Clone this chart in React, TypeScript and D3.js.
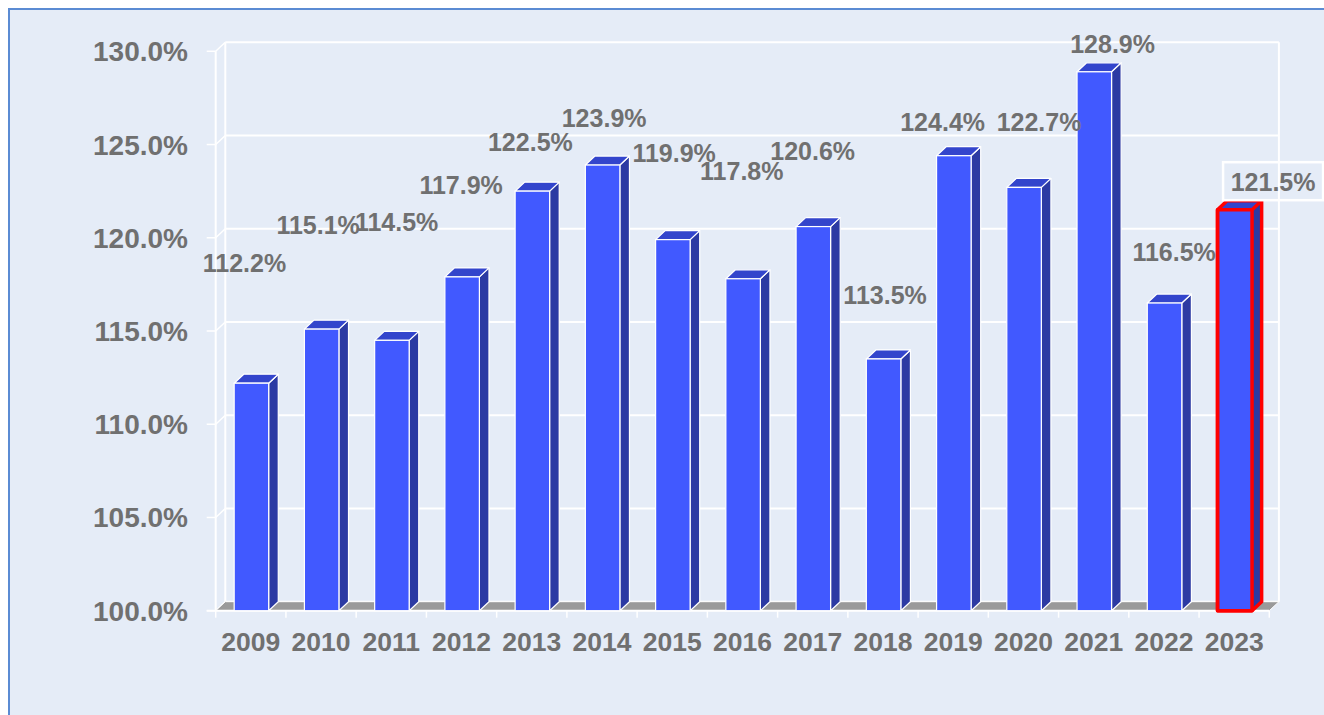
import React from "react";
import * as d3 from "d3";

// ---- data ----
const years = ["2009","2010","2011","2012","2013","2014","2015","2016","2017","2018","2019","2020","2021","2022","2023"];
const values = [112.2,115.1,114.5,117.9,122.5,123.9,119.9,117.8,120.6,113.5,124.4,122.7,128.9,116.5,121.5];
const yTicks = [100,105,110,115,120,125,130];
const highlightYear = "2023";

// ---- layout (label offsets from bar top-centre, px) ----
const labelDx = [-7,-3.5,4.7,-1,-2,1.5,1.3,-1.3,-0.7,1.5,-11.2,15,18.3,9.6,38.3];
const labelDy = [-111,-95,-109,-83,-40.6,-38.5,-78,-98.4,-66.8,-55.4,-24.5,-56,-18.4,-41.7,-18.6];

const W = 1324, H = 715;
const DX = 9.6, DY = 9;
const BG = "#E5ECF7";
const TEXT = "#707070";
const FONT = "'Liberation Sans', Arial, Helvetica, sans-serif";

export default function App() {
  const y = d3.scaleLinear().domain([100, 130]).range([610.7, 51.3]);
  const x = d3.scaleBand<string>().domain(years).range([215.7, 1269.3]).paddingInner(0).paddingOuter(0);
  const bw = x.bandwidth();
  const barW = 34.5;
  const x0 = 215.7, x1 = 1269.3;
  const yBase = y(100);

  const floor = `M${x0},${yBase} L${x1},${yBase} L${x1 + DX},${yBase - DY} L${x0 + DX},${yBase - DY} Z`;

  return (
    <div style={{ position: "absolute", left: 0, top: 0, width: W, height: H }}>
      <svg width={W} height={H} style={{ display: "block" }}>
        <rect x={0} y={0} width={W} height={H} fill="#ffffff" />
        <rect x={9} y={9} width={W + 20} height={H + 20} fill={BG} stroke="#5B8BD3" strokeWidth={2} />

        {/* back wall gridlines */}
        {yTicks.map((t) => (
          <g key={"g" + t}>
            <line x1={x0 + DX} x2={x1 + DX} y1={y(t) - DY} y2={y(t) - DY} stroke="#ffffff" strokeWidth={2} />
            <line x1={x0} x2={x0 + DX} y1={y(t)} y2={y(t) - DY} stroke="#ffffff" strokeWidth={1.5} />
            <line x1={x0 - 9} x2={x0} y1={y(t)} y2={y(t)} stroke="#ffffff" strokeWidth={1.5} />
          </g>
        ))}
        {/* left wall verticals and right back edge */}
        <line x1={x0} x2={x0} y1={y(130)} y2={yBase} stroke="#ffffff" strokeWidth={2} />
        <line x1={x0 + DX} x2={x0 + DX} y1={y(130) - DY} y2={yBase - DY} stroke="#ffffff" strokeWidth={2} />
        <line x1={x1 + DX} x2={x1 + DX} y1={y(130) - DY} y2={yBase - DY} stroke="#ffffff" strokeWidth={2} />

        {/* floor */}
        <path d={floor} fill="#9A9A9A" stroke="#ffffff" strokeWidth={1} />
        <line x1={x0 - 9} x2={x1} y1={yBase} y2={yBase} stroke="#ffffff" strokeWidth={2} />
        {years.map((yr, i) => (
          <line key={"t" + yr} x1={x(yr)!} x2={x(yr)!} y1={yBase} y2={yBase + 7} stroke="#ffffff" strokeWidth={1.5} />
        ))}
        <line x1={x1} x2={x1} y1={yBase} y2={yBase + 7} stroke="#ffffff" strokeWidth={1.5} />

        {/* bars */}
        {years.map((yr, i) => {
          const v = values[i];
          const left = x(yr)! + (bw - barW) / 2 + 0.6;
          const right = left + barW;
          const top = y(v);
          const hl = yr === highlightYear;
          const side = `M${right},${top} L${right + DX},${top - DY} L${right + DX},${yBase - DY} L${right},${yBase} Z`;
          const topFace = `M${left},${top} L${left + DX},${top - DY} L${right + DX},${top - DY} L${right},${top} Z`;
          const outline = `M${left},${yBase} L${left},${top} L${left + DX},${top - DY} L${right + DX},${top - DY} L${right + DX},${yBase - DY} L${right},${yBase} Z`;
          return (
            <g key={"b" + yr}>
              <path d={side} fill="#2C3AA3" stroke="#ffffff" strokeWidth={1.2} strokeLinejoin="round" />
              <path d={topFace} fill="#3345CC" stroke="#ffffff" strokeWidth={1.2} strokeLinejoin="round" />
              <rect x={left} y={top} width={barW} height={yBase - top} fill="#4159FF" stroke="#ffffff" strokeWidth={1.2} />
              {hl && (
                <g fill="none" stroke="#FF0000" strokeWidth={3.5} strokeLinejoin="round">
                  <path d={outline} />
                  <rect x={left} y={top} width={barW} height={yBase - top} />
                  <line x1={right} y1={top} x2={right + DX} y2={top - DY} />
                </g>
              )}
            </g>
          );
        })}

        {/* y axis labels */}
        {yTicks.map((t) => (
          <text key={"yl" + t} x={188} y={y(t) + 10} textAnchor="end" fontFamily={FONT} fontWeight="bold" fontSize={28} fill={TEXT}>
            {t.toFixed(1) + "%"}
          </text>
        ))}

        {/* x axis labels */}
        {years.map((yr) => (
          <text key={"xl" + yr} x={x(yr)! + bw / 2} y={650.5} textAnchor="middle" fontFamily={FONT} fontWeight="bold" fontSize={26.5} fill={TEXT}>
            {yr}
          </text>
        ))}

        {/* data labels */}
        {years.map((yr, i) => {
          const cx = x(yr)! + bw / 2 + 0.6 + labelDx[i];
          const by = y(values[i]) + labelDy[i];
          const hl = yr === highlightYear;
          return (
            <g key={"dl" + yr}>
              {hl && <rect x={cx - 50} y={by - 29} width={100} height={38} fill="none" stroke="#ffffff" strokeWidth={2.5} />}
              <text x={cx} y={by} textAnchor="middle" fontFamily={FONT} fontWeight="bold" fontSize={25} fill={TEXT}>
                {values[i].toFixed(1) + "%"}
              </text>
            </g>
          );
        })}
      </svg>
    </div>
  );
}
